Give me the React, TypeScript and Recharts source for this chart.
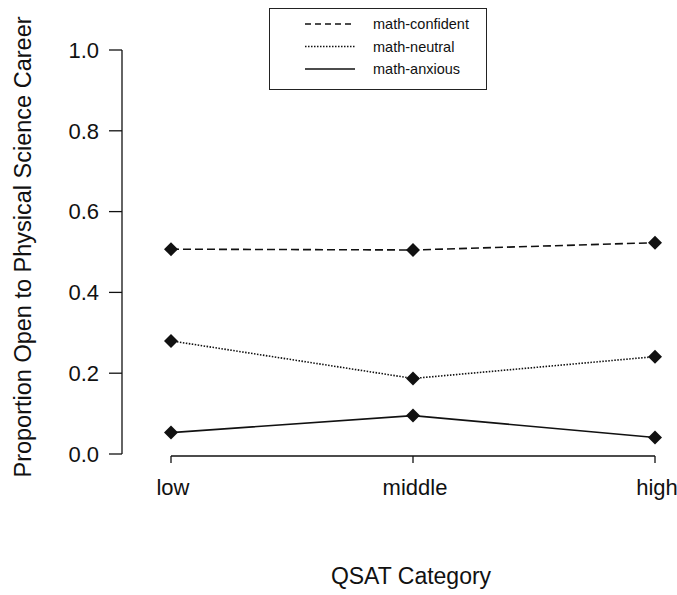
import React from "react";
import {
  LineChart,
  Line,
  XAxis,
  YAxis,
  ReferenceLine,
} from "recharts";

const categories = ["low", "middle", "high"];
const confident = [0.507, 0.505, 0.523];
const neutral = [0.28, 0.187, 0.241];
const anxious = [0.053, 0.095, 0.041];
const yTicks = [0, 0.2, 0.4, 0.6, 0.8, 1.0];

const legendItems = [
  { label: "math-confident", dash: "6 4" },
  { label: "math-neutral", dash: "1.5 1.5" },
  { label: "math-anxious", dash: undefined },
];

const INK = "#111";
const FONT = "'Liberation Sans', Arial, Helvetica, sans-serif";

const data = categories.map((c, i) => ({
  cat: c,
  confident: confident[i],
  neutral: neutral[i],
  anxious: anxious[i],
}));

function Diamond(props: any) {
  const { cx, cy } = props;
  if (cx == null || cy == null) return null;
  const r = 7;
  return (
    <polygon
      points={`${cx},${cy - r} ${cx + r},${cy} ${cx},${cy + r} ${cx - r},${cy}`}
      fill={INK}
    />
  );
}

function XTick({ x, y, payload }: any) {
  return (
    <g>
      <line x1={x} x2={x} y1={y + 2} y2={y + 9} stroke={INK} strokeWidth={1.3} />
      <text
        x={x + 2}
        y={y + 41}
        textAnchor="middle"
        fontSize={22}
        fontFamily={FONT}
        fill={INK}
      >
        {payload.value}
      </text>
    </g>
  );
}

function YTitle() {
  const cx = 31;
  const cy = 247;
  return (
    <text
      x={cx}
      y={cy}
      transform={`rotate(-90, ${cx}, ${cy})`}
      textAnchor="middle"
      fontSize={23.5}
      fontFamily={FONT}
      fill={INK}
    >
      Proportion Open to Physical Science Career
    </text>
  );
}

function ChartLegend() {
  return (
    <div
      style={{
        position: "absolute",
        left: 269,
        top: 8,
        width: 218,
        height: 82,
        border: "1px solid #222",
        boxSizing: "border-box",
        background: "#fff",
      }}
    >
      <svg width={216} height={80}>
        {legendItems.map((item, i) => {
          const y = 15 + i * 22.5;
          return (
            <g key={item.label}>
              <line
                x1={35}
                x2={85}
                y1={y}
                y2={y}
                stroke={INK}
                strokeWidth={1.5}
                strokeDasharray={item.dash}
              />
              <text
                x={103}
                y={y + 5}
                fontSize={14.5}
                fontFamily={FONT}
                fill={INK}
              >
                {item.label}
              </text>
            </g>
          );
        })}
      </svg>
    </div>
  );
}

export default function App() {
  return (
    <div
      style={{
        position: "absolute",
        left: 0,
        top: 0,
        width: 677,
        height: 595,
        background: "#fff",
      }}
    >
      <LineChart
        width={677}
        height={595}
        data={data}
        margin={{ top: 50, right: 7, bottom: 0, left: 0 }}
      >
        <XAxis
          dataKey="cat"
          height={141}
          padding={{ left: 49, right: 15 }}
          axisLine={false}
          tickLine={false}
          tickSize={0}
          tickMargin={0}
          interval={0}
          tick={<XTick />}
          label={{
            content: () => (
              <text
                x={411}
                y={584}
                textAnchor="middle"
                fontSize={23}
                fontFamily={FONT}
                fill={INK}
              >
                QSAT Category
              </text>
            ),
          }}
        />
        <YAxis
          width={122}
          domain={[0, 1]}
          ticks={yTicks}
          tickFormatter={(v: number) => v.toFixed(1)}
          tickSize={13}
          tickMargin={10}
          stroke={INK}
          tick={{ fontSize: 22, fill: INK, fontFamily: FONT }}
          axisLine={{ stroke: INK, strokeWidth: 1.3 }}
          tickLine={{ stroke: INK, strokeWidth: 1.3 }}
          label={{ content: () => <YTitle /> }}
        />
        <ReferenceLine
          segment={[
            { x: "low", y: -0.005 },
            { x: "high", y: -0.005 },
          ]}
          stroke={INK}
          strokeWidth={1.3}
          ifOverflow="visible"
        />
        <Line
          dataKey="confident"
          stroke={INK}
          strokeWidth={1.6}
          strokeDasharray="8 4"
          dot={<Diamond />}
          activeDot={false}
          isAnimationActive={false}
        />
        <Line
          dataKey="neutral"
          stroke={INK}
          strokeWidth={1.6}
          strokeDasharray="1.5 1.5"
          dot={<Diamond />}
          activeDot={false}
          isAnimationActive={false}
        />
        <Line
          dataKey="anxious"
          stroke={INK}
          strokeWidth={1.6}
          dot={<Diamond />}
          activeDot={false}
          isAnimationActive={false}
        />
      </LineChart>
      <ChartLegend />
    </div>
  );
}
